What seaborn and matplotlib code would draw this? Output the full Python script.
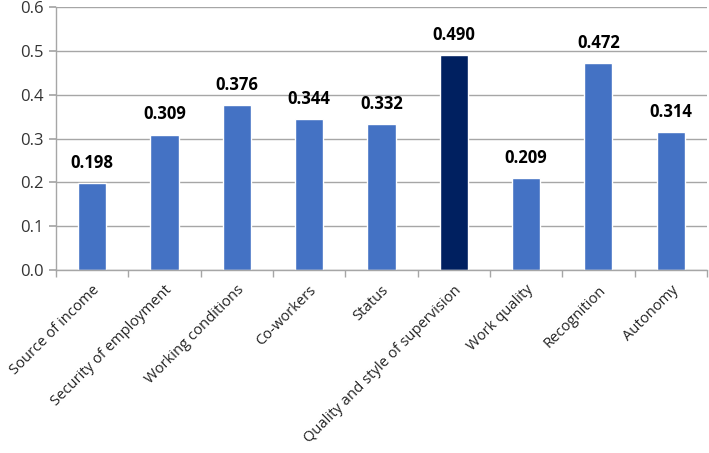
import matplotlib
matplotlib.use('Agg')
import matplotlib.pyplot as plt
import matplotlib.transforms as mtransforms
import seaborn as sns
import pandas as pd
import numpy as np
from matplotlib.ticker import FixedLocator

factors = ['Source of income', 'Security of employment', 'Working conditions',
           'Co-workers', 'Status', 'Quality and style of supervision',
           'Work quality', 'Recognition', 'Autonomy']
scores = [0.198, 0.309, 0.376, 0.344, 0.332, 0.490, 0.209, 0.472, 0.314]
highlight = 'Quality and style of supervision'

sns.set_theme(style='white')
plt.rcParams['font.family'] = ['Open Sans', 'DejaVu Sans']

df = pd.DataFrame({'factor': factors, 'score': scores})
colors = ['#002060' if f == highlight else '#4472C4' for f in factors]

fig = plt.figure(figsize=(7.09, 4.53), dpi=100)
ax = fig.add_axes([0.079, 0.404, 0.918, 0.5805])

sns.barplot(data=df, x='factor', y='score', hue='factor', palette=colors,
            legend=False, width=0.39, saturation=1, ax=ax)

for i, v in enumerate(scores):
    ax.annotate(f'{v:.3f}', (i, v), xytext=(0, 8), textcoords='offset points',
                ha='center', va='bottom', fontsize=12, fontweight='bold',
                color='black')

ax.set_ylim(0, 0.6)
ax.set_xlim(-0.5, len(factors) - 0.5)
ax.set_yticks(np.arange(0, 0.61, 0.1))
ax.set_yticklabels([f'{t:.1f}' for t in np.arange(0, 0.61, 0.1)], fontsize=12, color='#333333')
ax.yaxis.grid(True, color='#A6A6A6', linewidth=1)
ax.set_axisbelow(True)

ax.set_xticks(range(len(factors)))
ax.set_xticklabels(factors, rotation=45, ha='right', rotation_mode='anchor',
                   fontsize=10.6, color='#222222')
shift = mtransforms.ScaledTranslation(3 / 100, 0, fig.dpi_scale_trans)
for lbl in ax.get_xticklabels():
    lbl.set_transform(lbl.get_transform() + shift)
ax.xaxis.set_minor_locator(FixedLocator(np.arange(-0.5, len(factors), 1)))
ax.tick_params(axis='x', which='major', length=0, pad=9)
ax.tick_params(axis='x', which='minor', length=5, color='#A6A6A6', bottom=True)
ax.tick_params(axis='y', length=5, color='#A6A6A6', left=True, pad=4)

ax.set_xlabel('')
ax.set_ylabel('')
for s in ['top', 'right']:
    ax.spines[s].set_visible(False)
for s in ['left', 'bottom']:
    ax.spines[s].set_color('#A6A6A6')
    ax.spines[s].set_linewidth(1)

fig.savefig('out.png', dpi=100)
